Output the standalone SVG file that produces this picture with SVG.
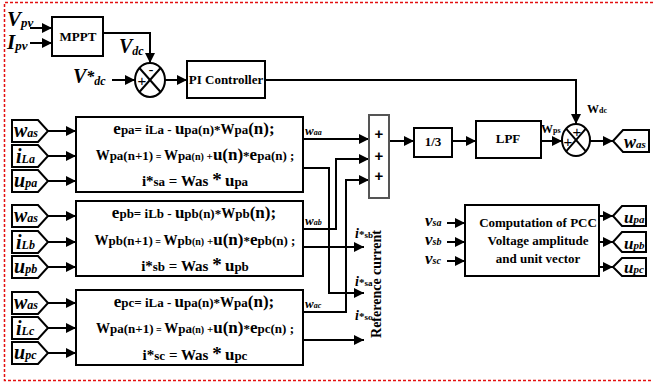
<svg xmlns="http://www.w3.org/2000/svg" width="653" height="387" viewBox="0 0 653 387">
<style>
.bx{fill:#fff;stroke:#000;stroke-width:2}
.sb{fill:#fff;stroke:#555;stroke-width:2}
.tag{fill:#fff;stroke:#000;stroke-width:2}
.ln{fill:none;stroke:#000;stroke-width:2}
.ar{fill:none;stroke:#000;stroke-width:2;marker-end:url(#ah)}
.t{font-family:"Liberation Serif","Times New Roman",serif;font-weight:bold;fill:#000}
.eq{font-family:"Liberation Serif","Times New Roman",serif;font-weight:bold;font-size:13px;fill:#000;text-anchor:middle}
.L{font-size:17px}
.it{font-family:"Liberation Serif","Times New Roman",serif;font-weight:bold;font-style:italic;fill:#000}
.sg{font-family:"Liberation Sans",Arial,sans-serif;font-size:15px;fill:#000;text-anchor:middle}
</style>
<defs>
<marker id="ah" viewBox="0 0 10 10" refX="10" refY="5" markerWidth="10" markerHeight="10" markerUnits="userSpaceOnUse" orient="auto"><path d="M0,0 L10,5 L0,10 z" fill="#000"/></marker>
</defs>
<path d="M653,2.5 H4.5 V380.5 H653" fill="none" stroke="#e31010" stroke-width="1.5" stroke-dasharray="3,2"/>

<g id="connectors">
<line class="ar" x1="30" y1="28" x2="52" y2="28"/>
<line class="ar" x1="30" y1="43" x2="52" y2="43"/>
<polyline class="ar" points="103,33 150,33 150,63"/>
<line class="ar" x1="112" y1="80" x2="135" y2="80"/>
<line class="ar" x1="165" y1="80" x2="187" y2="80"/>
<polyline class="ar" points="265,80 576,80 576,124"/>
<line class="ar" x1="389" y1="141" x2="414" y2="141"/>
<line class="ar" x1="452" y1="141" x2="476" y2="141"/>
<line class="ar" x1="541" y1="141" x2="562" y2="141"/>
<line class="ar" x1="590" y1="141" x2="613" y2="141"/>
<line class="ar" x1="303" y1="139" x2="369" y2="139"/>
<polyline class="ar" points="303,229 336,229 336,159 369,159"/>
<polyline class="ar" points="303,312 346,312 346,180 369,180"/>
<polyline class="ar" points="303,168 329,168 329,293 364,293"/>
<line class="ar" x1="303" y1="247" x2="364" y2="247"/>
<line class="ar" x1="303" y1="340" x2="364" y2="340"/>
<line class="ar" x1="48" y1="131" x2="76" y2="131"/>
<line class="ar" x1="48" y1="156" x2="76" y2="156"/>
<line class="ar" x1="48" y1="181" x2="76" y2="181"/>
<line class="ar" x1="48" y1="216" x2="76" y2="216"/>
<line class="ar" x1="48" y1="242" x2="76" y2="242"/>
<line class="ar" x1="48" y1="267" x2="76" y2="267"/>
<line class="ar" x1="48" y1="303" x2="76" y2="303"/>
<line class="ar" x1="48" y1="328" x2="76" y2="328"/>
<line class="ar" x1="48" y1="353" x2="76" y2="353"/>
<line class="ar" x1="447" y1="223" x2="465" y2="223"/>
<line class="ar" x1="447" y1="242" x2="465" y2="242"/>
<line class="ar" x1="447" y1="261" x2="465" y2="261"/>
<line class="ar" x1="599" y1="216" x2="613" y2="216"/>
<line class="ar" x1="599" y1="242" x2="613" y2="242"/>
<line class="ar" x1="599" y1="267" x2="613" y2="267"/>
</g>

<g id="labels-top">
<text class="it" x="7" y="26"><tspan font-size="21">V</tspan><tspan font-size="13" dy="1">pv</tspan></text>
<text class="it" x="7" y="49"><tspan font-size="21">I</tspan><tspan font-size="13" dy="1">pv</tspan></text>
<text class="it" x="119" y="53"><tspan font-size="20">V</tspan><tspan font-size="12" dy="2">dc</tspan></text>
<text class="it" x="73" y="83"><tspan font-size="20">V</tspan><tspan font-size="16" dy="-1">*</tspan><tspan font-size="12" dy="3">dc</tspan></text>
<text class="t" x="587" y="113"><tspan font-size="12">W</tspan><tspan font-size="8">dc</tspan></text>
<text class="t" x="541" y="133"><tspan font-size="12">W</tspan><tspan font-size="8">ps</tspan></text>
<text class="it" x="305" y="135"><tspan font-size="13">w</tspan><tspan font-size="8">aa</tspan></text>
<text class="it" x="305" y="225"><tspan font-size="13">w</tspan><tspan font-size="8">ab</tspan></text>
<text class="it" x="305" y="308"><tspan font-size="13">w</tspan><tspan font-size="8">ac</tspan></text>
<text class="it" x="355" y="238"><tspan font-size="14">i</tspan><tspan font-size="11" font-style="normal">*</tspan><tspan font-size="9" font-style="normal">sb</tspan></text>
<text class="it" x="355" y="286"><tspan font-size="14">i</tspan><tspan font-size="11" font-style="normal">*</tspan><tspan font-size="9" font-style="normal">sa</tspan></text>
<text class="it" x="355" y="320"><tspan font-size="14">i</tspan><tspan font-size="11" font-style="normal">*</tspan><tspan font-size="9" font-style="normal">sc</tspan></text>
<text class="t" font-size="14" text-anchor="middle" transform="translate(381,284) rotate(-90)">Reference current</text>
<text class="it" x="425" y="226"><tspan font-size="17">v</tspan><tspan font-size="10">sa</tspan></text>
<text class="it" x="425" y="245"><tspan font-size="17">v</tspan><tspan font-size="10">sb</tspan></text>
<text class="it" x="425" y="264"><tspan font-size="17">v</tspan><tspan font-size="10">sc</tspan></text>
</g>

<g id="mppt">
<rect class="bx" x="52" y="17" width="51" height="39"/>
<text class="t" font-size="13" x="78" y="41" text-anchor="middle">MPPT</text>
</g>

<g id="sum1">
<ellipse class="bx" cx="150" cy="80" rx="15" ry="17"/>
<line class="ln" x1="139.4" y1="68" x2="160.6" y2="92"/>
<line class="ln" x1="160.6" y1="68" x2="139.4" y2="92"/>
<text class="sg" x="151" y="75">-</text>
<text class="sg" x="142" y="86">+</text>
</g>

<g id="pi">
<rect class="bx" x="187" y="61" width="78" height="37"/>
<text class="t" font-size="13" x="226" y="84" text-anchor="middle">PI Controller</text>
</g>

<g id="sumblock">
<rect class="sb" x="369" y="115" width="20" height="83"/>
<text class="sg" font-weight="bold" x="379" y="139">+</text>
<text class="sg" font-weight="bold" x="379" y="161">+</text>
<text class="sg" font-weight="bold" x="379" y="181">+</text>
</g>

<g id="third">
<rect class="bx" x="414" y="128" width="38" height="29"/>
<text class="t" font-size="13" x="433" y="146" text-anchor="middle">1/3</text>
</g>

<g id="lpf">
<rect class="bx" x="476" y="121" width="65" height="37"/>
<text class="t" font-size="13" x="508" y="143" text-anchor="middle">LPF</text>
</g>

<g id="sum2">
<ellipse class="bx" cx="576" cy="140" rx="14" ry="16"/>
<line class="ln" x1="566.1" y1="128.7" x2="585.9" y2="151.3"/>
<line class="ln" x1="585.9" y1="128.7" x2="566.1" y2="151.3"/>
<text class="sg" x="577" y="137">+</text>
<text class="sg" x="568" y="147">+</text>
</g>

<g id="was-out">
<path class="tag" d="M613,141 L623,130 H649 V152 H623 Z"/>
<text class="it" x="624" y="148"><tspan font-size="18">w</tspan><tspan font-size="11">as</tspan></text>
</g>

<g id="block-a">
<rect class="bx" x="76" y="117" width="227" height="75"/>
<text class="eq" x="194" y="134"><tspan class="L">e</tspan>pa= iLa - <tspan class="L">u</tspan>pa(n)*<tspan font-size="14">W</tspan>pa<tspan class="L">(n);</tspan></text>
<text class="eq" x="195" y="160"><tspan font-size="14">W</tspan>pa(n+1)<tspan font-size="10"> = </tspan><tspan font-size="14">W</tspan>pa<tspan font-size="10">(n)</tspan><tspan font-size="11"> +</tspan><tspan class="L">u(n)</tspan>*<tspan class="L">e</tspan>pa(n) ;</text>
<text class="eq" x="195" y="186"><tspan font-size="15">i*</tspan>sa<tspan font-size="15"> = Was </tspan><tspan font-size="19">*</tspan> <tspan class="L">u</tspan>pa</text>
</g>

<g id="block-b">
<rect class="bx" x="76" y="201" width="227" height="75"/>
<text class="eq" x="194" y="218"><tspan class="L">e</tspan>pb= iLb - <tspan class="L">u</tspan>pb(n)*<tspan font-size="14">W</tspan>pb<tspan class="L">(n);</tspan></text>
<text class="eq" x="195" y="245"><tspan font-size="14">W</tspan>pb(n+1)<tspan font-size="10"> = </tspan><tspan font-size="14">W</tspan>pb<tspan font-size="10">(n)</tspan><tspan font-size="11"> +</tspan><tspan class="L">u(n)</tspan>*<tspan class="L">e</tspan>pb(n) ;</text>
<text class="eq" x="195" y="271"><tspan font-size="15">i*</tspan>sb<tspan font-size="15"> = Was </tspan><tspan font-size="19">*</tspan> <tspan class="L">u</tspan>pb</text>
</g>

<g id="block-c">
<rect class="bx" x="76" y="290" width="227" height="75"/>
<text class="eq" x="194" y="307"><tspan class="L">e</tspan>pc= iLa - <tspan class="L">u</tspan>pa(n)*<tspan font-size="14">W</tspan>pa<tspan class="L">(n);</tspan></text>
<text class="eq" x="195" y="333"><tspan font-size="14">W</tspan>pa(n+1)<tspan font-size="10"> = </tspan><tspan font-size="14">W</tspan>pa<tspan font-size="10">(n)</tspan><tspan font-size="11"> +</tspan><tspan class="L">u(n)</tspan>*<tspan class="L">e</tspan>pc(n) ;</text>
<text class="eq" x="195" y="360"><tspan font-size="15">i*</tspan>sc<tspan font-size="15"> = Was </tspan><tspan font-size="19">*</tspan> <tspan class="L">u</tspan>pc</text>
</g>

<g id="tags-a">
<path class="tag" d="M12,120 H38 L48,131 L38,142 H12 Z"/>
<text class="it" x="14" y="137"><tspan font-size="20">w</tspan><tspan font-size="12">as</tspan></text>
<path class="tag" d="M12,145 H38 L48,156 L38,167 H12 Z"/>
<text class="it" x="16" y="163"><tspan font-size="20">i</tspan><tspan font-size="12">La</tspan></text>
<path class="tag" d="M12,170 H38 L48,181 L38,192 H12 Z"/>
<text class="it" x="14" y="187"><tspan font-size="20">u</tspan><tspan font-size="12">pa</tspan></text>
</g>

<g id="tags-b">
<path class="tag" d="M12,205 H38 L48,216 L38,227 H12 Z"/>
<text class="it" x="14" y="222"><tspan font-size="20">w</tspan><tspan font-size="12">as</tspan></text>
<path class="tag" d="M12,231 H38 L48,242 L38,253 H12 Z"/>
<text class="it" x="16" y="249"><tspan font-size="20">i</tspan><tspan font-size="12">Lb</tspan></text>
<path class="tag" d="M12,256 H38 L48,267 L38,278 H12 Z"/>
<text class="it" x="14" y="273"><tspan font-size="20">u</tspan><tspan font-size="12">pb</tspan></text>
</g>

<g id="tags-c">
<path class="tag" d="M12,292 H38 L48,303 L38,314 H12 Z"/>
<text class="it" x="14" y="309"><tspan font-size="20">w</tspan><tspan font-size="12">as</tspan></text>
<path class="tag" d="M12,317 H38 L48,328 L38,339 H12 Z"/>
<text class="it" x="16" y="335"><tspan font-size="20">i</tspan><tspan font-size="12">Lc</tspan></text>
<path class="tag" d="M12,342 H38 L48,353 L38,364 H12 Z"/>
<text class="it" x="14" y="359"><tspan font-size="20">u</tspan><tspan font-size="12">pc</tspan></text>
</g>

<g id="pcc">
<rect class="bx" x="465" y="205" width="134" height="71"/>
<text class="t" font-size="13" x="538" y="227" text-anchor="middle">Computation of PCC</text>
<text class="t" font-size="13" x="538" y="245" text-anchor="middle">Voltage amplitude</text>
<text class="t" font-size="13" x="538" y="263" text-anchor="middle">and unit vector</text>
</g>

<g id="tags-out">
<path class="tag" d="M613,216 L622,206 H646 V226 H622 Z"/>
<text class="it" x="624" y="223"><tspan font-size="17">u</tspan><tspan font-size="11">pa</tspan></text>
<path class="tag" d="M613,242 L622,232 H646 V252 H622 Z"/>
<text class="it" x="624" y="249"><tspan font-size="17">u</tspan><tspan font-size="11">pb</tspan></text>
<path class="tag" d="M613,267 L622,258 H646 V276 H622 Z"/>
<text class="it" x="624" y="273"><tspan font-size="17">u</tspan><tspan font-size="11">pc</tspan></text>
</g>
</svg>
